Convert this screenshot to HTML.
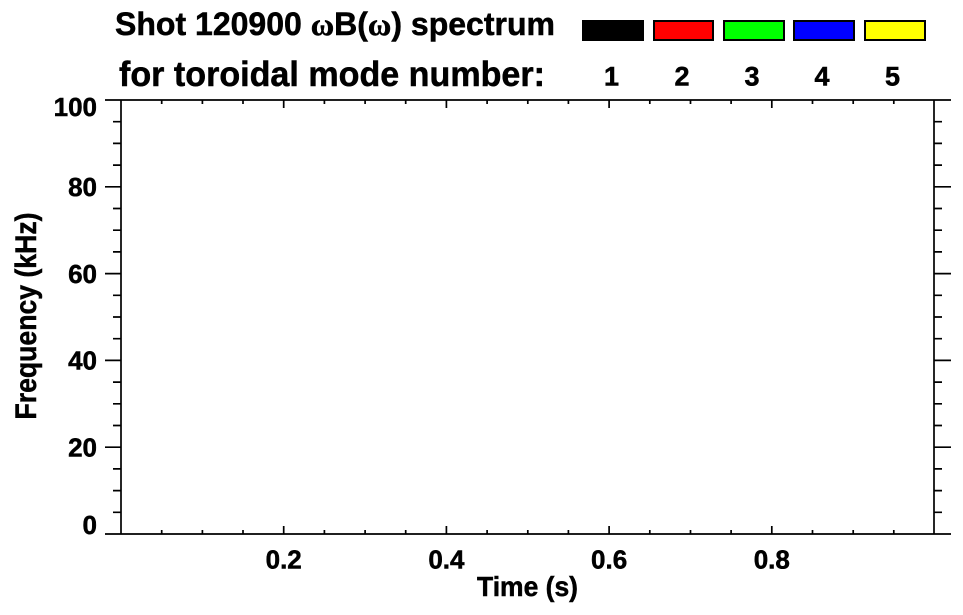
<!DOCTYPE html>
<html>
<head>
<meta charset="utf-8">
<style>
  html, body { margin: 0; padding: 0; background: #ffffff; }
  svg { display: block; }
  text { font-family: "Liberation Sans", "DejaVu Sans", sans-serif; font-weight: bold; fill: #000; stroke: #000; stroke-width: 0.5; }
</style>
</head>
<body>
<svg width="963" height="615" viewBox="0 0 963 615" xmlns="http://www.w3.org/2000/svg">
  <rect x="0" y="0" width="963" height="615" fill="#ffffff"/>

  <!-- Title -->
  <text x="115" y="35" font-size="32" textLength="440" lengthAdjust="spacingAndGlyphs">Shot 120900 <tspan font-family="Liberation Serif, serif">ω</tspan>B(<tspan font-family="Liberation Serif, serif">ω</tspan>) spectrum</text>
  <text x="119" y="86" font-size="35" textLength="426" lengthAdjust="spacingAndGlyphs">for toroidal mode number:</text>

  <!-- Legend boxes -->
  <g stroke="#000" stroke-width="2">
    <rect x="583" y="21" width="60" height="19" fill="#000000"/>
    <rect x="654" y="21" width="59" height="19" fill="#ff0000"/>
    <rect x="724" y="21" width="60" height="19" fill="#00ff00"/>
    <rect x="794" y="21" width="60" height="19" fill="#0000ff"/>
    <rect x="865" y="21" width="60" height="19" fill="#ffff00"/>
  </g>
  <g font-size="27" text-anchor="middle">
    <text x="611.5" y="85.5">1</text>
    <text x="682" y="85.5">2</text>
    <text x="752" y="85.5">3</text>
    <text x="822" y="85.5">4</text>
    <text x="892.5" y="85.5">5</text>
  </g>

  <!-- Axes -->
  <g stroke="#000" stroke-width="1.7" fill="none" stroke-linecap="butt">
    <path d="M105 534 H951 M105 100 H951 M121 100 V534 M934 100 V534"/>
    <path d="M283.7 534 v-8 M446.4 534 v-8 M609.1 534 v-8 M771.8 534 v-8"/>
    <path d="M161.7 534 v-4 M202.4 534 v-4 M243 534 v-4 M324.4 534 v-4 M365.1 534 v-4 M405.7 534 v-4 M487.1 534 v-4 M527.8 534 v-4 M568.4 534 v-4 M649.8 534 v-4 M690.5 534 v-4 M731.1 534 v-4 M812.5 534 v-4 M853.2 534 v-4 M893.8 534 v-4"/>
    <path d="M283.7 100 v8 M446.4 100 v8 M609.1 100 v8 M771.8 100 v8"/>
    <path d="M161.7 100 v4 M202.4 100 v4 M243 100 v4 M324.4 100 v4 M365.1 100 v4 M405.7 100 v4 M487.1 100 v4 M527.8 100 v4 M568.4 100 v4 M649.8 100 v4 M690.5 100 v4 M731.1 100 v4 M812.5 100 v4 M853.2 100 v4 M893.8 100 v4"/>
    <path d="M105 447.2 H121 M105 360.4 H121 M105 273.6 H121 M105 186.8 H121"/>
    <path d="M113 512.3 H121 M113 490.6 H121 M113 468.9 H121 M113 425.5 H121 M113 403.8 H121 M113 382.1 H121 M113 338.7 H121 M113 317 H121 M113 295.3 H121 M113 251.9 H121 M113 230.2 H121 M113 208.5 H121 M113 165.1 H121 M113 143.4 H121 M113 121.7 H121"/>
    <path d="M934 447.2 H951 M934 360.4 H951 M934 273.6 H951 M934 186.8 H951"/>
    <path d="M934 512.3 H942 M934 490.6 H942 M934 468.9 H942 M934 425.5 H942 M934 403.8 H942 M934 382.1 H942 M934 338.7 H942 M934 317 H942 M934 295.3 H942 M934 251.9 H942 M934 230.2 H942 M934 208.5 H942 M934 165.1 H942 M934 143.4 H942 M934 121.7 H942"/>
  </g>

  <!-- Y tick labels -->
  <g font-size="26" text-anchor="end">
    <text x="97" y="534">0</text>
    <text x="97" y="456.5">20</text>
    <text x="97" y="369.7">40</text>
    <text x="97" y="282.9">60</text>
    <text x="97" y="196.1">80</text>
    <text x="97" y="116">100</text>
  </g>

  <!-- X tick labels -->
  <g font-size="26" text-anchor="middle">
    <text x="283.7" y="568.5">0.2</text>
    <text x="446.4" y="568.5">0.4</text>
    <text x="609.1" y="568.5">0.6</text>
    <text x="771.8" y="568.5">0.8</text>
  </g>

  <!-- Axis titles -->
  <text x="477" y="596" font-size="28" textLength="101" lengthAdjust="spacingAndGlyphs">Time (s)</text>
  <text transform="translate(36,316) rotate(-90)" x="0" y="0" font-size="30" text-anchor="middle" textLength="207" lengthAdjust="spacingAndGlyphs">Frequency (kHz)</text>
</svg>
</body>
</html>
